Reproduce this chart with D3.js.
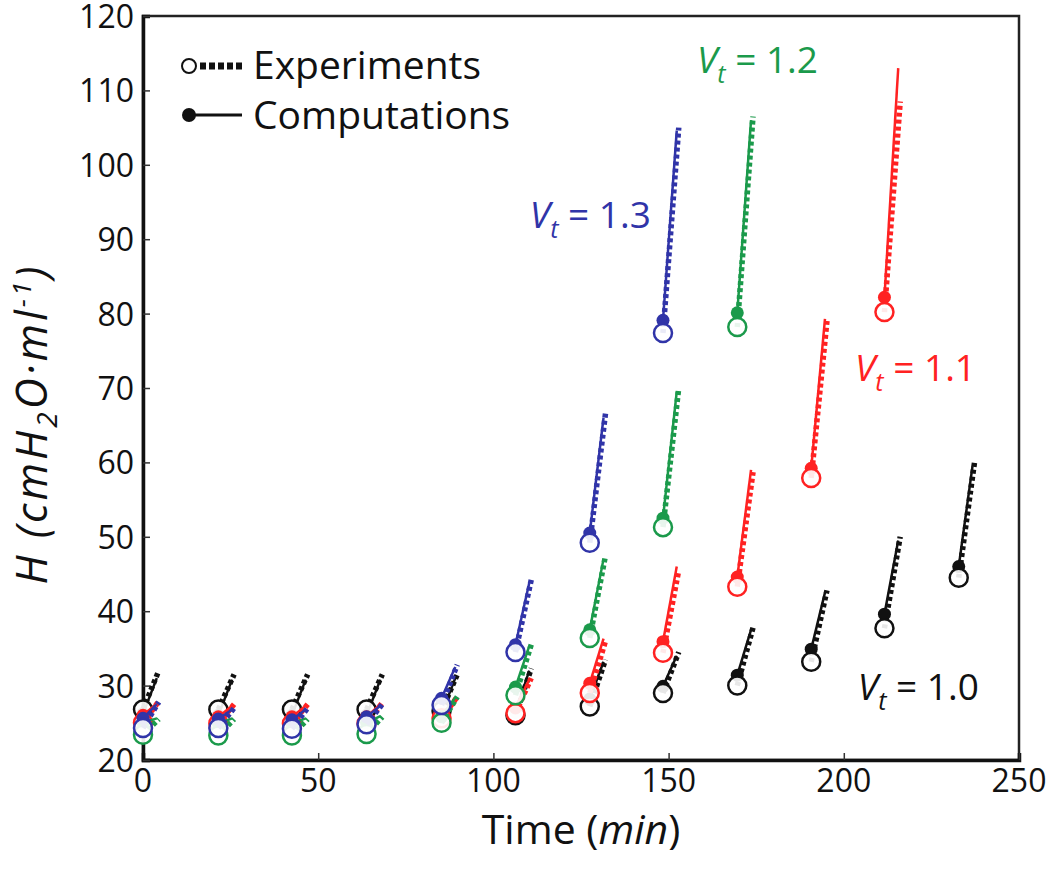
<!DOCTYPE html>
<html><head><meta charset="utf-8">
<script src="https://cdn.jsdelivr.net/npm/d3@7"></script>
<style>
body{margin:0;background:#fff;}
text{font-family:"Open Sans",sans-serif;}
</style></head>
<body><svg id="chart" width="1050" height="874"></svg>
<script>
// ---- data ----
const times = [0, 21.5, 42.5, 63.8, 85.2, 106.3, 127.5, 148.4, 169.6, 190.7, 211.6, 232.8];
const stepDuration = 4.5; // minutes spanned by each pressure rise
const xTicks = [0, 50, 100, 150, 200, 250];
const yTicks = [20, 30, 40, 50, 60, 70, 80, 90, 100, 110, 120];

const seriesNames = ["1.0", "1.1", "1.2", "1.3"];
const seriesColors = ["#111111", "#ff2222", "#1b9a4b", "#3034a8"];

// Vt = 1.0
const expStart10 = [26.8, 26.8, 26.8, 26.8, 26.6, 26.0, 27.2, 29.0, 30.0, 33.2, 37.7, 44.5];
const expEnd10   = [32.0, 31.5, 31.5, 31.5, 31.5, 32.3, 33.5, 34.5, 37.8, 42.8, 50.0, 60.0];
const compStart10= [26.2, 26.0, 26.0, 26.0, 26.2, 26.4, 28.2, 29.9, 31.4, 34.9, 39.6, 46.0];
const compEnd10  = [31.0, 30.8, 30.8, 30.8, 31.0, 32.0, 33.2, 34.0, 37.5, 42.5, 49.5, 59.5];
// Vt = 1.1
const expStart11 = [25.0, 24.9, 24.9, 24.9, 25.6, 26.3, 29.0, 34.4, 43.3, 57.9, 80.2];
const expEnd11   = [27.9, 27.5, 27.5, 27.7, 28.5, 31.0, 36.0, 45.5, 58.7, 79.0, 108.5];
const compStart11= [26.0, 25.8, 25.8, 25.8, 26.0, 27.0, 30.3, 35.9, 44.6, 59.2, 82.2];
const compEnd11  = [27.6, 27.3, 27.3, 27.5, 28.3, 30.8, 36.3, 46.0, 59.0, 79.3, 113.0];
// Vt = 1.2
const expStart12 = [23.4, 23.3, 23.3, 23.5, 25.0, 28.7, 36.4, 51.3, 78.2];
const expEnd12   = [25.5, 25.5, 25.5, 25.8, 28.5, 35.5, 47.5, 70.0, 106.5];
const compStart12= [25.0, 24.9, 24.9, 25.0, 25.8, 29.8, 37.5, 52.5, 80.1];
const compEnd12  = [25.6, 25.6, 25.6, 25.9, 28.4, 35.3, 47.0, 69.5, 106.0];
// Vt = 1.3
const expStart13 = [24.3, 24.3, 24.2, 24.8, 27.4, 34.5, 49.2, 77.4];
const expEnd13   = [27.8, 27.0, 27.0, 27.5, 32.8, 44.2, 66.6, 105.0];
const compStart13= [25.6, 25.5, 25.4, 25.8, 28.3, 35.5, 50.5, 79.1];
const compEnd13  = [27.5, 26.8, 26.8, 27.3, 32.5, 43.8, 66.0, 104.6];

const seriesData = [
  {name: seriesNames[0], color: seriesColors[0], es: expStart10, ee: expEnd10, cs: compStart10, ce: compEnd10},
  {name: seriesNames[1], color: seriesColors[1], es: expStart11, ee: expEnd11, cs: compStart11, ce: compEnd11},
  {name: seriesNames[2], color: seriesColors[2], es: expStart12, ee: expEnd12, cs: compStart12, ce: compEnd12},
  {name: seriesNames[3], color: seriesColors[3], es: expStart13, ee: expEnd13, cs: compStart13, ce: compEnd13}
];
// label anchor positions (data units)
const labelPos = [[204, 28.1], [203.2, 70.9], [158.1, 112.3], [110.4, 91.5]];

// ---- drawing ----
const svg = d3.select("#chart");
const x = d3.scaleLinear().domain([0, 250]).range([143, 1019]);
const y = d3.scaleLinear().domain([20, 120]).range([760, 16]);

// frame
svg.append("rect").attr("x", x(0)).attr("y", y(120))
  .attr("width", x(250) - x(0)).attr("height", y(20) - y(120))
  .attr("fill", "none").attr("stroke", "#222").attr("stroke-width", 2.5);

const xAxis = svg.append("g").attr("transform", `translate(0,${y(20)})`)
  .call(d3.axisTop(x).tickValues(xTicks).tickSize(7).tickFormat(""));
const yAxis = svg.append("g").attr("transform", `translate(${x(0)},0)`)
  .call(d3.axisRight(y).tickValues(yTicks).tickSize(7).tickFormat(""));
[xAxis, yAxis].forEach(a => {
  a.select(".domain").attr("stroke", "#111").attr("stroke-width", 3.5);
  a.selectAll(".tick line").attr("stroke", "#333").attr("stroke-width", 1.5);
});

// tick labels
svg.append("g").selectAll("text").data(xTicks).join("text")
  .attr("x", d => x(d)).attr("y", 792).attr("text-anchor", "middle")
  .attr("font-size", 32).attr("fill", "#111").text(d => d);
svg.append("g").selectAll("text").data(yTicks).join("text")
  .attr("x", 134).attr("y", d => y(d) + 12).attr("text-anchor", "end")
  .attr("font-size", 32).attr("fill", "#111").text(d => d);

// axis titles
const xt = svg.append("text").attr("x", 581).attr("y", 844).attr("text-anchor", "middle")
  .attr("font-size", 41).attr("fill", "#111");
xt.append("tspan").text("Time (");
xt.append("tspan").attr("font-style", "italic").text("min");
xt.append("tspan").text(")");

const yt = svg.append("text").attr("transform", "translate(47,424) rotate(-90)")
  .attr("text-anchor", "middle").attr("font-size", 43).attr("letter-spacing", 3)
  .attr("fill", "#111").attr("font-style", "italic");
yt.append("tspan").text("H (cmH");
yt.append("tspan").attr("font-size", 28).attr("dy", 10).text("2");
yt.append("tspan").attr("dy", -10).text("O·ml");
yt.append("tspan").attr("font-size", 26).attr("dy", -16).text("-1");
yt.append("tspan").attr("dy", 16).text(")");

// series
const plot = svg.append("g");
seriesData.forEach(s => {
  const g = plot.append("g");
  s.es.forEach((v, i) => {
    const t0 = times[i], t1 = times[i] + stepDuration;
    g.append("line").attr("x1", x(t0)).attr("y1", y(s.cs[i]))
      .attr("x2", x(t1) - 2).attr("y2", y(s.ce[i]))
      .attr("stroke", s.color).attr("stroke-width", 2.5);
    g.append("line").attr("x1", x(t0)).attr("y1", y(v))
      .attr("x2", x(t1)).attr("y2", y(s.ee[i]))
      .attr("stroke", s.color).attr("stroke-width", 5.5).attr("stroke-dasharray", "4,3");
    g.append("circle").attr("cx", x(t0)).attr("cy", y(s.cs[i])).attr("r", 6.5)
      .attr("fill", s.color);
    g.append("circle").attr("cx", x(t0)).attr("cy", y(v)).attr("r", 9)
      .attr("fill", "#fff").attr("fill-opacity", 0.9).attr("stroke", s.color).attr("stroke-width", 2.5);
  });
});

// series labels
seriesData.forEach((s, k) => {
  const [lx, ly] = labelPos[k];
  const t = svg.append("text").attr("x", x(lx)).attr("y", y(ly))
    .attr("font-size", 37).attr("fill", s.color);
  t.append("tspan").attr("font-style", "italic").text("V");
  t.append("tspan").attr("font-style", "italic").attr("font-size", 25).attr("dy", 10).text("t");
  t.append("tspan").attr("dy", -10).text(" = " + s.name);
});

// legend
const lg = svg.append("g");
lg.append("line").attr("x1", 200).attr("y1", 66).attr("x2", 242).attr("y2", 66)
  .attr("stroke", "#111").attr("stroke-width", 7).attr("stroke-dasharray", "6,3");
lg.append("circle").attr("cx", 189).attr("cy", 66).attr("r", 7)
  .attr("fill", "#fff").attr("stroke", "#111").attr("stroke-width", 2);
lg.append("line").attr("x1", 190).attr("y1", 115).attr("x2", 242).attr("y2", 115)
  .attr("stroke", "#111").attr("stroke-width", 3);
lg.append("circle").attr("cx", 189).attr("cy", 115).attr("r", 7).attr("fill", "#111");
lg.append("text").attr("x", 253).attr("y", 79).attr("font-size", 39).attr("fill", "#111").text("Experiments");
lg.append("text").attr("x", 253).attr("y", 129).attr("font-size", 39).attr("fill", "#111").text("Computations");
</script></body></html>
